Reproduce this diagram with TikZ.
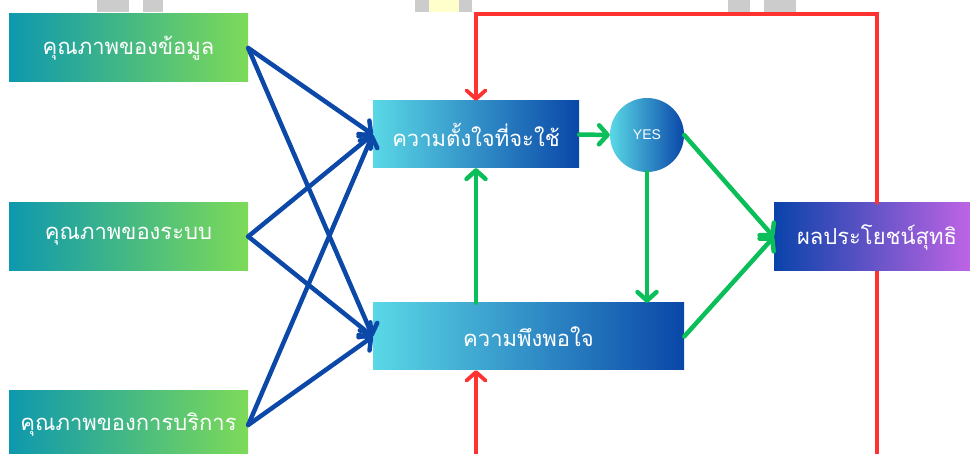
\documentclass[tikz,border=0pt]{standalone}
\usepackage{fontspec}
\setmainfont{Liberation Sans}
\newfontfamily\thaifont[Script=Thai]{Loma}
\usetikzlibrary{arrows.meta}

\definecolor{tealL}{HTML}{0E98AE}
\definecolor{greenR}{HTML}{7DDA58}
\definecolor{cyanL}{HTML}{5AD8E6}
\definecolor{navyR}{HTML}{0A47A8}
\definecolor{navyL}{HTML}{0A43AA}
\definecolor{purpleR}{HTML}{BE64E4}
\definecolor{linkblue}{HTML}{0C48A8}
\definecolor{linkgreen}{HTML}{0ABE5A}
\definecolor{linkred}{HTML}{FF3232}
\definecolor{markgray}{HTML}{CCCCCC}
\definecolor{markyellow}{HTML}{FFFFCC}

\tikzset{
  boxbase/.style={inner sep=0pt, text=white, font=\thaifont\fontsize{22}{26}\selectfont},
  factor/.style={boxbase, left color=tealL, right color=greenR,
                 minimum width=239pt, minimum height=68pt},
  stage/.style={boxbase, left color=cyanL, right color=navyR, minimum height=67pt},
  outcome/.style={boxbase, left color=navyL, right color=purpleR,
                  minimum width=196pt, minimum height=68pt},
  yesnode/.style={circle, inner sep=0pt, minimum size=74pt, left color=cyanL,
                  right color=navyR, text=white, font=\fontsize{14}{16}\selectfont},
  tip/.style={-{Straight Barb[length=8.5pt,width=19pt,round]}},
  bluelink/.style={draw=linkblue, line width=4.5pt, line cap=round, tip},
  greenlink/.style={draw=linkgreen, line width=4.5pt, line cap=round, tip},
  redline/.style={draw=linkred, line width=3.8pt},
  redlink/.style={redline, line cap=round, tip}
}

\begin{document}
\begin{tikzpicture}[x=1pt,y=-1pt]
\useasboundingbox (0,0) rectangle (970,454);
\clip (0,0) rectangle (970,454);

% marks along the top edge
\fill[markgray] (97,0) rectangle (129,12);
\fill[markgray] (143,0) rectangle (163,12);
\fill[markgray] (415,0) rectangle (429,12);
\fill[markyellow] (429,0) rectangle (459,12);
\fill[markgray] (459,0) rectangle (472,12);
\fill[markgray] (728,0) rectangle (750,12);
\fill[markgray] (764,0) rectangle (796,12);

% input factors
\node[factor] (q1) at (128.5,48) {คุณภาพของข้อมูล};
\node[factor] (q2) at (128.5,236.5) {คุณภาพของระบบ};
\node[factor] (q3) at (128.5,425) {คุณภาพของการบริการ};

% intention, satisfaction, decision and outcome
\node[stage, minimum width=206pt] (int) at (476,134.5) {ความตั้งใจที่จะใช้};
\node[stage, minimum width=311pt] (sat) at (528.5,336.5) {ความพึงพอใจ};
\node[yesnode] (yes) at (647,135) {YES};
\node[outcome] (net) at (872,237) {\hspace{10pt}ผลประโยชน์สุทธิ};

% factor links
\foreach \q in {q1,q2,q3}{
  \draw[bluelink] (\q.east) -- (int.west);
  \draw[bluelink] (\q.east) -- (sat.west);
}

% flow links
\draw[greenlink] (int.east) -- (yes.west);
\draw[greenlink] (sat.north -| int.south) -- (int.south);
\draw[greenlink] (yes.south) -- (yes.south |- sat.north);
\draw[greenlink] (yes.east) -- (net.west);
\draw[greenlink] (sat.east) -- (net.west);

% feedback loop
\coordinate (rtop) at (877,14);
\coordinate (rbotR) at (877,470);
\coordinate (rbotL) at (476,470);
\draw[redline] (rbotR) -- (rbotR |- net.south);
\draw[redlink] (rtop |- net.north) -- (rtop) -- (rtop -| int.north) -- (int.north);
\draw[redlink] (rbotL) -- (rbotL |- sat.south);
\end{tikzpicture}
\end{document}
